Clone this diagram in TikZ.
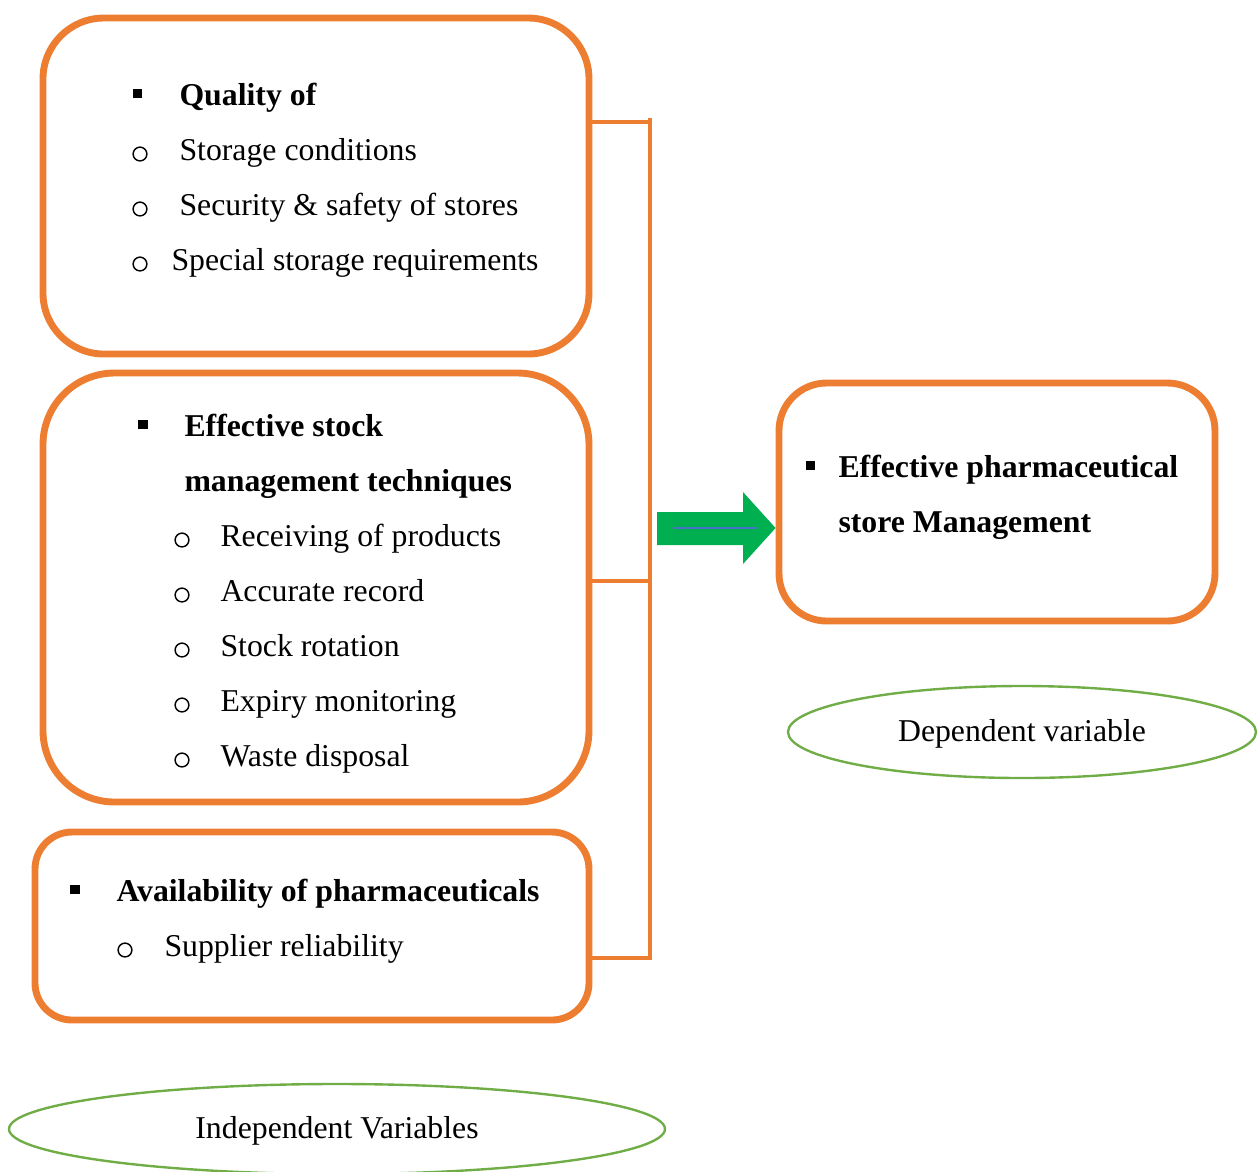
\documentclass[tikz,border=0pt]{standalone}
\usepackage{fontspec}
\setmainfont{Liberation Serif}
\usetikzlibrary{fit}
\definecolor{boxorange}{HTML}{ED7D31}
\definecolor{ovalgreen}{HTML}{70AD47}
\definecolor{arrowgreen}{HTML}{00B050}
\definecolor{lineblue}{HTML}{4472C4}
\begin{document}
\begin{tikzpicture}[x=0.01327cm, y=-0.01327cm, font=\fontsize{12}{14}\selectfont, line join=round,
  box/.style={draw=boxorange, line width=2.6pt, inner sep=0pt},
  txt/.style={anchor=base west, inner sep=0pt},
  sqbul/.style={fill=black, minimum size=3.4pt, inner sep=0pt},
  cibul/.style={circle, draw=black, line width=0.55pt, minimum size=5.2pt, inner sep=0pt},
  oval/.style={draw=ovalgreen, line width=0.9pt}]
\useasboundingbox (0,0) rectangle (1260,1171);
% boxes
\node[box, rounded corners=23pt, fit={(43,18) (589,354)}] (quality) {};
\node[box, rounded corners=27pt, fit={(43,373) (589,802)}] (stock) {};
\node[box, rounded corners=14pt, fit={(35,832) (589,1020)}] (avail) {};
\node[box, rounded corners=18pt, fit={(779,383) (1215,621)}] (store) {};
% texts of the first box
\node[sqbul] (q0) at (137.5,93.5) {};
\node[txt] (q1) at (179,105) {\textbf{Quality of}};
\node[cibul] (q2) at (140,154) {};
\node[txt] (q3) at (179,160) {Storage conditions};
\node[cibul] (q4) at (140,209) {};
\node[txt] (q5) at (179,215) {Security \& safety of stores};
\node[cibul] (q6) at (140,264) {};
\node[txt] (q7) at (171,270) {Special storage requirements};
% texts of the second box
\node[sqbul] (s0) at (143,424.5) {};
\node[txt] (s1) at (184,436) {\textbf{Effective stock}};
\node[txt] (s2) at (184,491) {\textbf{management techniques}};
\foreach \t [count=\i] in {Receiving of products, Accurate record, Stock rotation, Expiry monitoring, Waste disposal}
  {\node[cibul] (b\i) at (182,{485+55*\i}) {};
   \node[txt] (t\i) at (220,{491+55*\i}) {\t};}
% texts of the third box
\node[sqbul] (a0) at (75,889.5) {};
\node[txt] (a1) at (116,901) {\textbf{Availability of pharmaceuticals}};
\node[cibul] (a2) at (125,950) {};
\node[txt] (a3) at (164,956) {Supplier reliability};
% texts of the right box
\node[sqbul] (e0) at (810,465.5) {};
\node[txt] (e1) at (838,477) {\textbf{Effective pharmaceutical}};
\node[txt] (e2) at (838,532) {\textbf{store Management}};
% bracket
\coordinate (top) at (650,118);
\coordinate (bot) at (650,960);
\draw[boxorange, line width=1.5pt] (top) -- (bot);
\draw[boxorange, line width=1.5pt] (quality.east |- 0,122) -- (top |- 0,122);
\draw[boxorange, line width=1.5pt] (stock.east |- 0,581) -- (top |- 0,581);
\draw[boxorange, line width=1.5pt] (avail.east |- 0,958) -- (top |- 0,958);
% arrow
\fill[arrowgreen] (657,512) -- (743,512) -- (743,492) -- (store.west |- 0,528) -- (743,564) -- (743,545) -- (657,545) -- cycle;
\draw[lineblue, line width=0.5pt] (673,528) -- (757,528);
% ovals
\draw[oval] (1022,732) ellipse [x radius=234, y radius=46];
\node (dep) at (1022,734) {Dependent variable};
\draw[oval] (337,1129) ellipse [x radius=328, y radius=45];
\node (indep) at (337,1131) {Independent Variables};
\end{tikzpicture}
\end{document}
